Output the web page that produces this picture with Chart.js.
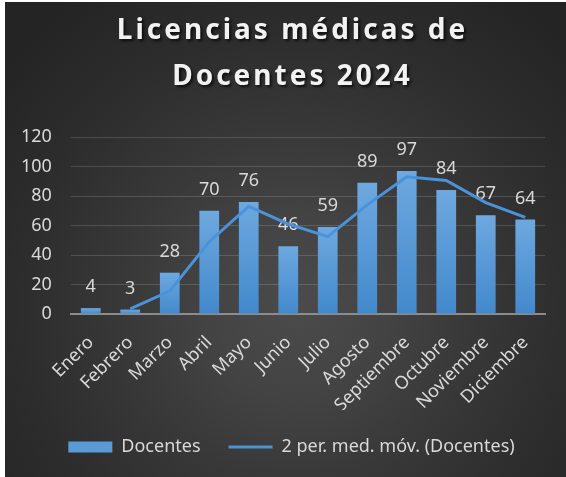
<!DOCTYPE html>
<html>
<head>
<meta charset="utf-8">
<script src="https://cdn.jsdelivr.net/npm/chart.js@4"></script>
<style>
  html, body { margin: 0; padding: 0; background: #ffffff; }
  #wrap {
    position: absolute; left: 5px; top: 2px; width: 561px; height: 475px;
    background: radial-gradient(circle at 52% 64%, #4b4b4b 0%, #434343 22%, #383838 42%, #2d2d2d 65%, #242424 90%);
  }
  #title {
    position: absolute; left: 0; top: 3px; width: 561px; padding-left: 14px; box-sizing: border-box;
    text-align: center; font: bold 28px "Noto Sans", sans-serif; letter-spacing: 3px;
    line-height: 46px; color: #f2f2f2; text-shadow: 2px 2px 3px rgba(0,0,0,0.7);
  }
  canvas { position: absolute; left: 0; top: 0; }
</style>
</head>
<body>
<div id="wrap">
  <canvas id="chart" width="561" height="475"></canvas>
  <div id="title">Licencias médicas de<br>Docentes 2024</div>
</div>
<script>
  const months = ['Enero', 'Febrero', 'Marzo', 'Abril', 'Mayo', 'Junio', 'Julio',
    'Agosto', 'Septiembre', 'Octubre', 'Noviembre', 'Diciembre'];
  const docentes = [4, 3, 28, 70, 76, 46, 59, 89, 97, 84, 67, 64];
  // 2-period moving average as shown on the chart
  const mediaMovil = [null, 3.5, 15.5, 49, 73, 61, 52.5, 74, 93, 90.5, 75.5, 65.5];
  const yTicks = [0, 20, 40, 60, 80, 100, 120];

  const textColor = '#d9d9d9';
  const font = { family: '"Noto Sans", sans-serif', size: 18 };

  function barGradient(context) {
    const chart = context.chart;
    if (!chart.chartArea || context.type !== 'data') return '#5b9bd5';
    const yScale = chart.scales.y;
    const top = yScale.getPixelForValue(context.raw);
    const bottom = yScale.getPixelForValue(0);
    if (!isFinite(top) || top === bottom) return '#5b9bd5';
    const g = chart.ctx.createLinearGradient(0, top, 0, bottom);
    g.addColorStop(0, '#6ea8df');
    g.addColorStop(1, '#4289cc');
    return g;
  }

  // value labels above the bars, drawn before the line so the line sits on top
  const barLabels = {
    id: 'barLabels',
    afterDatasetDraw(chart, args) {
      if (args.index !== 0) return;
      const ctx = chart.ctx;
      ctx.save();
      ctx.font = '18px "Noto Sans", sans-serif';
      ctx.fillStyle = textColor;
      ctx.textAlign = 'center';
      ctx.textBaseline = 'middle';
      args.meta.data.forEach((bar, i) => {
        ctx.fillText(String(docentes[i]), bar.x, bar.y - 21);
      });
      ctx.restore();
    }
  };

  new Chart(document.getElementById('chart'), {
    type: 'bar',
    data: {
      labels: months,
      datasets: [{
        label: 'Docentes',
        data: docentes,
        backgroundColor: barGradient,
        barPercentage: 0.5,
        categoryPercentage: 1,
        order: 2
      }, {
        type: 'line',
        label: '2 per. med. móv. (Docentes)',
        data: mediaMovil,
        borderColor: '#4a92da',
        borderWidth: 3,
        pointRadius: 0,
        tension: 0,
        fill: false,
        order: 1
      }]
    },
    options: {
      responsive: false,
      animation: false,
      layout: { padding: { top: 135, left: 33, right: 21, bottom: 11 } },
      plugins: {
        title: { display: false },
        tooltip: { enabled: false },
        legend: {
          position: 'bottom',
          labels: {
            color: textColor,
            font: font,
            usePointStyle: true,
            pointStyleWidth: 44,
            boxHeight: 11,
            padding: 28,
            generateLabels: function() {
              return [{
                text: 'Docentes', fillStyle: '#5b9bd5', strokeStyle: '#5b9bd5',
                lineWidth: 0, pointStyle: 'rect', fontColor: textColor, datasetIndex: 0
              }, {
                text: '2 per. med. móv. (Docentes)', fillStyle: '#4a92da', strokeStyle: '#4a92da',
                lineWidth: 3, pointStyle: 'line', fontColor: textColor, datasetIndex: 1
              }];
            }
          }
        }
      },
      scales: {
        x: {
          grid: { display: false, drawTicks: false },
          border: { display: true, color: '#8c8c8c', width: 2 },
          ticks: { color: textColor, font: font, minRotation: 45, maxRotation: 45, padding: 18 },
          afterFit: function(scale) { scale.height = 96; }
        },
        y: {
          min: 0,
          max: 120,
          afterBuildTicks: function(scale) { scale.ticks = yTicks.map(v => ({ value: v })); },
          grid: { color: 'rgba(255,255,255,0.15)', lineWidth: 1, drawTicks: false },
          border: { display: false },
          // mirrored + far aligned so the labels sit right-aligned left of the plot without clipping
          ticks: { color: textColor, font: font, mirror: true, crossAlign: 'far', padding: -50 },
          afterFit: function(scale) { scale.width = 33; }
        }
      }
    },
    plugins: [barLabels]
  });
</script>
</body>
</html>
